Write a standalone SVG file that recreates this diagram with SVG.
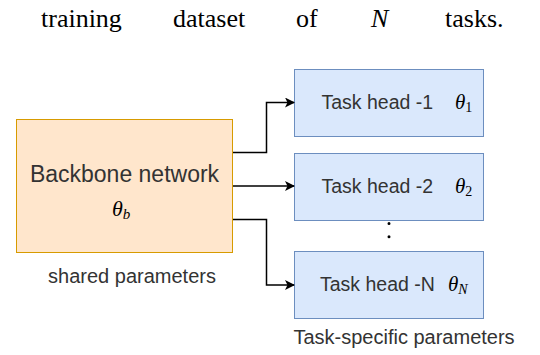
<svg xmlns="http://www.w3.org/2000/svg" width="540" height="355" viewBox="0 0 540 355">
  <defs>
    <marker id="arrow" viewBox="0 0 10 10" refX="9" refY="5" markerWidth="10" markerHeight="10" markerUnits="userSpaceOnUse" orient="auto">
      <path d="M0,0 L10,5 L0,10 L2.5,5 Z" fill="#000"/>
    </marker>
  </defs>
  <style>
    .caption { font-family: "Liberation Serif", "Times New Roman", serif; font-size: 26px; fill: #000; }
    .lbl { font-family: "Liberation Sans", Arial, sans-serif; fill: #333; }
    .math { font-family: "Liberation Serif", "Times New Roman", serif; font-style: italic; fill: #000; }
    .orange { fill: #ffe6cc; stroke: #d79b00; stroke-width: 1; }
    .blue { fill: #dae8fc; stroke: #6c8ebf; stroke-width: 1; }
    .conn { fill: none; stroke: #000; stroke-width: 1.5; }
  </style>
  <rect width="540" height="355" fill="#fff"/>

  <g id="caption" class="caption">
    <text x="41" y="27">training</text>
    <text x="173" y="27">dataset</text>
    <text x="296" y="27">of</text>
    <text x="371" y="27" font-style="italic">N</text>
    <text x="445" y="27">tasks.</text>
  </g>

  <g id="backbone">
    <rect class="orange" x="16.5" y="119.5" width="216" height="133"/>
    <text class="lbl" x="124.5" y="181.5" font-size="23" text-anchor="middle">Backbone network</text>
    <text class="math" x="112" y="216" font-size="22">θ<tspan font-size="15" dy="3">b</tspan></text>
    <text class="lbl" x="132" y="283" font-size="20" text-anchor="middle">shared parameters</text>
  </g>

  <g id="head1">
    <rect class="blue" x="294.5" y="69.5" width="189" height="67"/>
    <text class="lbl" x="321.5" y="109" font-size="19.5">Task head -1</text>
    <text class="math" x="455" y="108.5" font-size="21">θ<tspan font-size="14" dy="3" font-style="normal">1</tspan></text>
  </g>

  <g id="head2">
    <rect class="blue" x="294.5" y="153.5" width="189" height="67"/>
    <text class="lbl" x="321.5" y="193" font-size="19.5">Task head -2</text>
    <text class="math" x="455" y="192.5" font-size="21">θ<tspan font-size="14" dy="3" font-style="normal">2</tspan></text>
  </g>

  <g id="headN">
    <rect class="blue" x="294.5" y="251.5" width="189" height="67"/>
    <text class="lbl" x="320" y="291" font-size="19.5">Task head -N</text>
    <text class="math" x="448" y="290.5" font-size="21">θ<tspan font-size="14" dy="3">N</tspan></text>
    <text class="lbl" x="404" y="344" font-size="20" text-anchor="middle">Task-specific parameters</text>
  </g>

  <g id="connectors">
    <path class="conn" d="M233,152.5 H266.5 V102.5 H294" marker-end="url(#arrow)"/>
    <path class="conn" d="M233,186 H294" marker-end="url(#arrow)"/>
    <path class="conn" d="M233,219.5 H266.5 V285 H294" marker-end="url(#arrow)"/>
    <line x1="389" y1="223.5" x2="389" y2="250" stroke="#000" stroke-width="3" stroke-linecap="round" stroke-dasharray="0 13.25"/>
  </g>
</svg>
